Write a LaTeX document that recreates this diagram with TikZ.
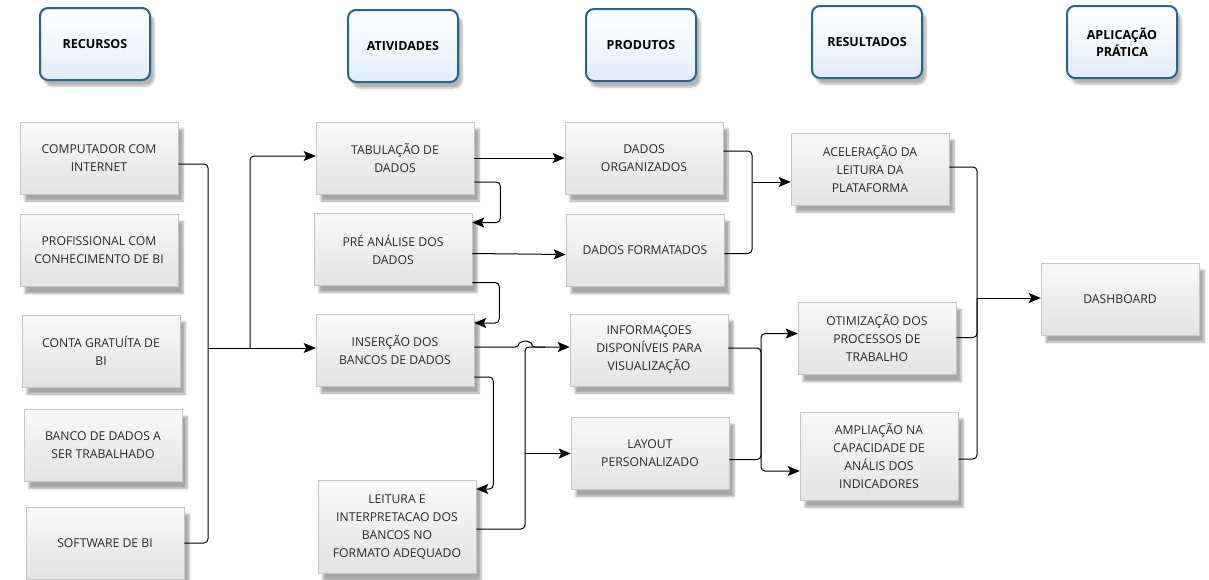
\documentclass[tikz,border=0pt]{standalone}
\usepackage{fontspec}
\setmainfont{Open Sans}
\usepackage{tikz}
\usetikzlibrary{arrows.meta,positioning,shadows,shadows.blur}
\usepackage{xcolor}
\definecolor{lmblue}{RGB}{34,102,150}
\definecolor{lmlightblue}{RGB}{228,236,250}
\definecolor{lmtext}{RGB}{40,40,40}
\tikzstyle{arrow} = [line width=1pt,-{Stealth[length=12pt,width=10pt,inset=2.5pt]},rounded corners=4pt]
\tikzstyle{link} = [line width=1pt,rounded corners=4pt]
\tikzstyle{headbox} = [rectangle, rounded corners=8pt, minimum width=110pt, minimum height=72pt, align=center, draw=lmblue, line width=2pt, top color=white, bottom color=lmlightblue, font=\bfseries\fontsize{12.5}{17}\selectfont, blur shadow={shadow xshift=4pt, shadow yshift=-6pt, shadow opacity=30, shadow blur steps=6}]
\tikzstyle{itembox} = [rectangle, minimum width=158pt, minimum height=72pt, align=center, draw=gray!45, line width=0.5pt, top color=gray!5, bottom color=gray!22, text=lmtext, font=\fontsize{12.2}{18}\selectfont, blur shadow={shadow xshift=5pt, shadow yshift=-7pt, shadow opacity=35, shadow blur steps=6}]

\begin{document}
\begin{tikzpicture}[x=1pt,y=-1pt]
\useasboundingbox (0,0) rectangle (1209,579);

% cabecalhos
\node[headbox] (recursos) at (95,44) {RECURSOS};
\node[headbox] (atividades) at (403,46) {ATIVIDADES};
\node[headbox] (produtos) at (641,45) {PRODUTOS};
\node[headbox] (resultados) at (867,42) {RESULTADOS};
\node[headbox] (aplicacao) at (1122,42) {APLICAÇÃO\\PRÁTICA};

% recursos
\node[itembox] (comp) at (99,158) {COMPUTADOR COM\\INTERNET};
\node[itembox, below=20pt of comp] (prof) {PROFISSIONAL COM\\CONHECIMENTO DE BI};
\node[itembox, below=28pt of prof, xshift=2pt] (conta) {CONTA GRATUÍTA DE\\BI};
\node[itembox, below=22pt of conta, xshift=2pt] (banco) {BANCO DE DADOS A\\SER TRABALHADO};
\node[itembox, below=25pt of banco, xshift=2pt] (software) {SOFTWARE DE BI};

% atividades
\node[itembox] (tab) at (395,158) {TABULAÇÃO DE\\DADOS};
\node[itembox, below=19pt of tab, xshift=-2pt] (pre) {PRÉ ANÁLISE DOS\\DADOS};
\node[itembox, below=28pt of pre, xshift=2pt] (ins) {INSERÇÃO DOS\\BANCOS DE DADOS};
\node[itembox, minimum height=93pt, below=94pt of ins, xshift=2pt] (leit) {LEITURA E\\INTERPRETACAO DOS\\BANCOS NO\\FORMATO ADEQUADO};

% produtos
\node[itembox] (org) at (644,158) {DADOS\\ORGANIZADOS};
\node[itembox, below=20pt of org, xshift=1pt] (form) {DADOS FORMATADOS};
\node[itembox, below=27pt of form, xshift=4pt] (info) {INFORMAÇOES\\DISPONÍVEIS PARA\\VISUALIZAÇÃO};
\node[itembox, below=31pt of info, xshift=1pt] (layout) {LAYOUT\\PERSONALIZADO};

% resultados
\node[itembox] (acel) at (870,169) {ACELERAÇÃO DA\\LEITURA DA\\PLATAFORMA};
\node[itembox, below=97pt of acel, xshift=7pt] (otim) {OTIMIZAÇÃO DOS\\PROCESSOS DE\\TRABALHO};
\node[itembox, minimum height=88pt, below=37pt of otim, xshift=2pt] (ampl) {AMPLIAÇÃO NA\\CAPACIDADE DE\\ANÁLIS DOS\\INDICADORES};

% aplicacao pratica
\node[itembox] (dash) at (1120,299) {DASHBOARD};

% pontos de juncao
\coordinate (busA) at (208,348);
\coordinate (busB) at (250,348);
\coordinate (hop) at (525,347);
\coordinate (busC) at (752,182);
\coordinate (busD) at (761,400);
\coordinate (busE) at (977,298);

% recursos -> atividades
\draw[link] ([yshift=-6pt]comp.east) -| (busA);
\draw[link] (software.east) -| (busA);
\draw[arrow] (busA) -- ([yshift=2pt]ins.west);
\draw[arrow] (busB) |- ([yshift=2pt]tab.west);

% atividades
\draw[arrow] (tab.east) -- (org.west);
\draw[arrow] ([yshift=-24pt]tab.east) -- ++(26,0) |- ([yshift=27pt]pre.east);
\draw[arrow] ([yshift=-4pt]pre.east) -- ([yshift=-4pt]form.west);
\draw[arrow] ([yshift=-33pt]pre.east) -- ++(27,0) |- ([yshift=27pt]ins.east);
\draw[arrow] ([yshift=3pt]ins.east) -- ++(45,0) arc[start angle=180, end angle=360, radius=6] -- ([yshift=3pt]info.west);
\draw[arrow] ([yshift=-27pt]ins.east) -- ++(19,0) |- ([yshift=38pt]leit.east);
\draw[link] ([yshift=-2pt]leit.east) -| (hop) -- ++(20,0);
\draw[arrow] (hop |- layout.west) -- (layout.west);

% produtos -> resultados
\draw[link] ([yshift=7pt]org.east) -| (busC);
\draw[link] ([yshift=-3pt]form.east) -| (busC);
\draw[arrow] (busC) -- ([yshift=-13pt]acel.west);
\draw[link] ([yshift=2pt]info.east) -| (busD);
\draw[link] ([yshift=-6pt]layout.east) -| (busD);
\draw[arrow] (busD) |- ([yshift=5pt]otim.west);
\draw[arrow] (busD) |- ([yshift=-15pt]ampl.west);

% resultados -> dashboard
\draw[link] ([yshift=2pt]acel.east) -| (busE);
\draw[link] ([yshift=1pt]otim.east) -| (busE);
\draw[link] ([yshift=-3pt]ampl.east) -| (busE);
\draw[arrow] (busE) -- ([yshift=1pt]dash.west);
\end{tikzpicture}
\end{document}
